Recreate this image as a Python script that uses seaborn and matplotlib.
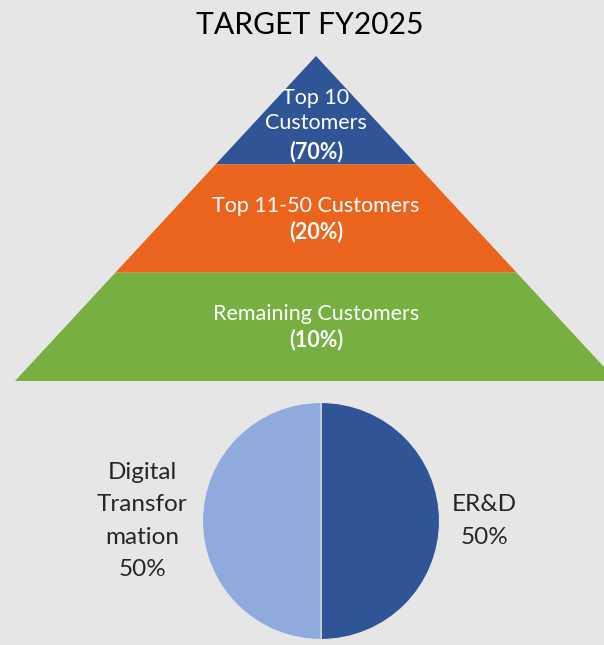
"""Цільова структура клієнтів і напрямів на FY2025."""

import matplotlib.pyplot as plt
import seaborn as sns

BG = "#e7e6e6"

tier_names = ["Top 10\nCustomers", "Top 11-50 Customers", "Remaining Customers"]
tier_shares = ["(70%)", "(20%)", "(10%)"]
tier_colors = ["#2f5597", "#ea641e", "#77b041"]

segment_names = ["ER&D", "Digital\nTransfor\nmation"]
segment_values = [50, 50]
segment_colors = ["#2f5597", "#8faadc"]

sns.set_theme(style="white")
plt.rcParams["font.family"] = ["Lato", "DejaVu Sans"]

fig = plt.figure(figsize=(6.04, 6.45), dpi=100, facecolor=BG)

# піраміда в піксельних координатах
axis = fig.add_axes([0, 0, 1, 1])
axis.set_xlim(0, 604)
axis.set_ylim(645, 0)
axis.axis("off")
axis.set_facecolor(BG)

apex_x, apex_y, base_y = 316, 56, 381
half_base = 301
n_tiers = len(tier_names)
tier_h = (base_y - apex_y) / n_tiers


def half_width(y):
    return half_base * (y - apex_y) / (base_y - apex_y)


for i, (name, share, color) in enumerate(zip(tier_names, tier_shares, tier_colors)):
    y0 = apex_y + i * tier_h
    y1 = y0 + tier_h
    w0, w1 = half_width(y0), half_width(y1)
    axis.fill(
        [apex_x - w0, apex_x + w0, apex_x + w1, apex_x - w1],
        [y0, y0, y1, y1],
        color=color,
        lw=0,
    )
    if i == 0:
        name_y, share_y = y1 - 54, y1 - 13
    else:
        name_y, share_y = y1 - 67, y1 - 41
    axis.text(apex_x, name_y, name, ha="center", va="center", color="white",
              fontsize=15.5, linespacing=1.35)
    axis.text(apex_x, share_y, share, ha="center", va="center", color="white",
              fontsize=15.5, fontweight="bold")

axis.text(310, 25, "TARGET FY2025", ha="center", va="center", fontsize=21.7,
          color="black")

# кругова діаграма
pie_axis = fig.add_axes([(321 - 118.5) / 604, 1 - (521 + 118.5) / 645,
                         237 / 604, 237 / 645])
pie_axis.pie(segment_values, colors=segment_colors, startangle=90,
             counterclock=False, wedgeprops={"linewidth": 0.8, "edgecolor": BG})
pie_axis.set_xlim(-1, 1)
pie_axis.set_ylim(-1, 1)
pie_axis.set_aspect("equal")
label_x = [1.38, -1.51]
for name, value, x in zip(segment_names, segment_values, label_x):
    pie_axis.text(x, 0, f"{name}\n{value}%", ha="center", va="center",
                  multialignment="center", fontsize=17.5, color="#262626",
                  linespacing=1.65)

fig.savefig("out.png", dpi=100, facecolor=BG)
